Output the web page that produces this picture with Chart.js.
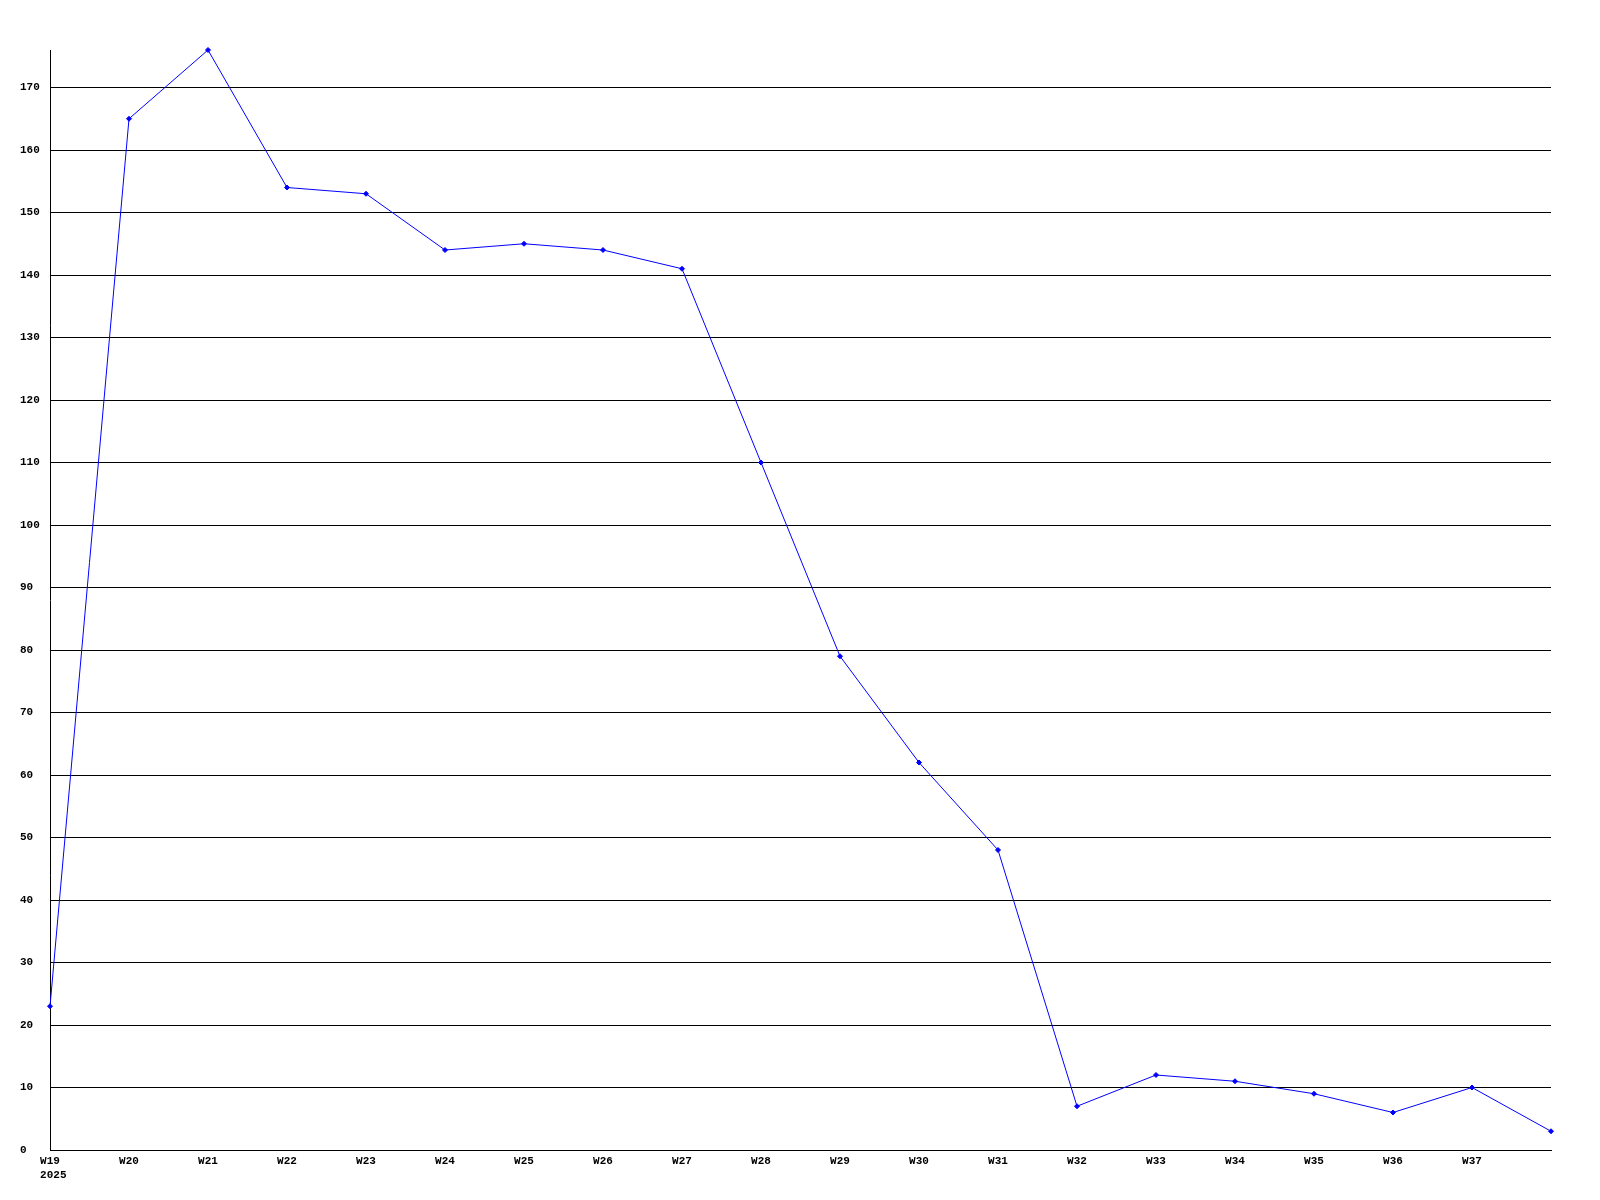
<!DOCTYPE html>
<html>
<head>
<meta charset="utf-8">
<title>Weekly chart</title>
<script src="https://cdn.jsdelivr.net/npm/chart.js@4"></script>
<style>
  html, body { margin: 0; padding: 0; background: #fff; }
  canvas { display: block; }
</style>
</head>
<body>
<canvas id="week-chart" width="1600" height="1200"></canvas>
<script>
"use strict";

const weeks = ["W19", "W20", "W21", "W22", "W23", "W24", "W25", "W26", "W27", "W28",
  "W29", "W30", "W31", "W32", "W33", "W34", "W35", "W36", "W37", "W38"];
const counts = [23, 165, 176, 154, 153, 144, 145, 144, 141, 110,
  79, 62, 48, 7, 12, 11, 9, 6, 10, 3];
const yearLabel = "2025";
const yMax = 176;

const ctx = document.getElementById("week-chart");
const tickFont = { family: "'Liberation Mono', 'DejaVu Sans Mono', monospace", size: 11, weight: "bold" };

new Chart(ctx, {
  type: "line",
  data: {
    labels: weeks,
    datasets: [
      {
        data: counts,
        borderColor: "#0000ff",
        backgroundColor: "#0000ff",
        borderWidth: 1,
        pointStyle: "rectRot",
        pointRadius: 2.5,
        pointBorderWidth: 1,
        tension: 0,
        clip: false,
      },
    ],
  },
  options: {
    responsive: false,
    animation: false,
    layout: {
      padding: { left: 20, right: 49, top: 50, bottom: 0 },
    },
    scales: {
      x: {
        offset: false,
        grid: { display: false, drawTicks: false },
        border: { color: "#000", width: 1 },
        ticks: {
          color: "#000",
          font: tickFont,
          padding: 5,
          maxRotation: 0,
          autoSkip: false,
          callback: function (value, index) {
            // last week has no label in the original
            if (index === weeks.length - 1) return "";
            // year sits under the first week, shifted right a bit
            if (index === 0) return [weeks[index], " " + yearLabel];
            return weeks[index];
          },
        },
        afterFit: (axis) => { axis.height = 50; },
      },
      y: {
        min: 0,
        max: yMax,
        grid: { color: "#000", lineWidth: 1, drawTicks: false },
        border: { color: "#000", width: 1 },
        ticks: {
          stepSize: 10,
          includeBounds: false,
          color: "#000",
          font: tickFont,
          crossAlign: "far",
          padding: 10,
        },
        afterFit: (axis) => { axis.width = 30; },
      },
    },
    plugins: {
      legend: { display: false },
      tooltip: { enabled: false },
    },
  },
});
</script>
</body>
</html>
